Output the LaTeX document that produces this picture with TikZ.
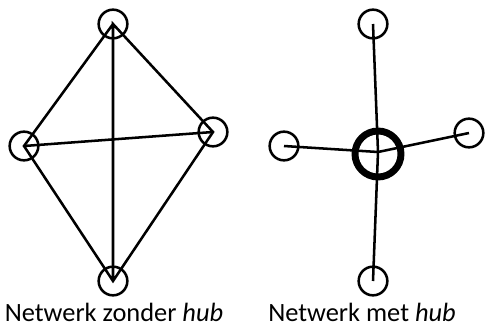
\documentclass[tikz,border=0pt]{standalone}
\usepackage{fontspec}
\setmainfont{Carlito}
\begin{document}
\begin{tikzpicture}[x=0.75pt,y=-0.75pt,
  vertex/.style={circle,draw,line width=1.9pt,minimum size=21.5pt,inner sep=0pt},
  hubnode/.style={circle,draw,line width=5.2pt,minimum size=34.5pt,inner sep=0pt},
  link/.style={line width=1.9pt},
  caption/.style={anchor=base,inner sep=0pt,font=\fontsize{19.8}{23}\selectfont}]
\useasboundingbox (0,0) rectangle (485,329);
% network without hub: every node linked to every other
\node[vertex] (t) at (113,24) {};
\node[vertex] (l) at (24,146) {};
\node[vertex] (r) at (213,132) {};
\node[vertex] (b) at (113,281) {};
\draw[link] (t.center) -- (l.center) -- (b.center) -- (r.center) -- (t.center) -- (b.center);
\draw[link] (l.center) -- (r.center);
\node[caption] (capA) at (114,321.7) {Netwerk zonder \textit{hub}};
% network with hub: all nodes linked through the central node
\node[vertex] (t2) at (373,24) {};
\node[vertex] (l2) at (284,146) {};
\node[vertex] (r2) at (469,133) {};
\node[vertex] (b2) at (373,281) {};
\node[hubnode] (h) at (378,154) {};
\coordinate (hc) at (378,152);
\draw[link] (t2.center) -- (hc) -- (b2.center);
\draw[link] (l2.center) -- (hc) -- (r2.center);
\node[caption] (capB) at (362,321.7) {Netwerk met \textit{hub}};
\end{tikzpicture}
\end{document}
